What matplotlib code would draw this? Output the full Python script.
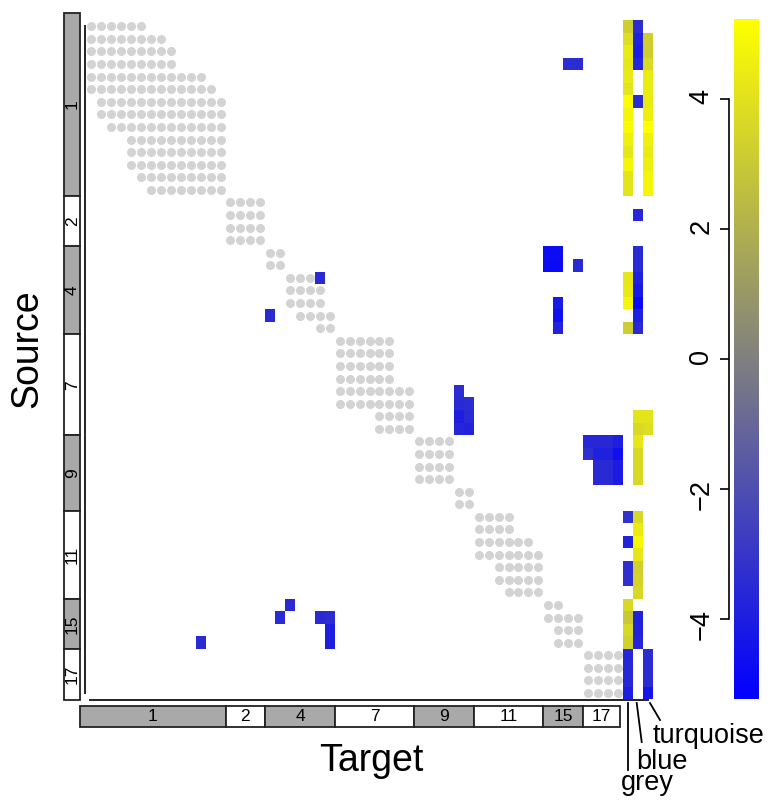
import numpy as np
import matplotlib.pyplot as plt
from matplotlib.colors import LinearSegmentedColormap
from matplotlib.patches import Rectangle

plt.rcParams['font.family'] = ['Liberation Sans', 'DejaVu Sans']

# modules along both axes
modules = ["1", "2", "4", "7", "9", "11", "15", "17"]
module_sizes = [14, 4, 7, 8, 6, 7, 4, 4]
module_shade = ["#A9A9A9", "white", "#A9A9A9", "white", "#A9A9A9", "white", "#A9A9A9", "white"]

# grey dots in the diagonal blocks: (row, first col, last col)
dot_spans = [
    (1, 1, 6), (2, 1, 8), (3, 1, 9), (4, 1, 9), (5, 1, 12), (6, 1, 13), (7, 2, 14),
    (8, 2, 14), (9, 3, 14), (10, 5, 14), (11, 5, 14), (12, 5, 14), (13, 6, 14), (14, 7, 14),
    (15, 15, 18), (16, 15, 18), (17, 15, 18), (18, 15, 18),
    (19, 19, 20), (20, 19, 20), (21, 21, 24), (22, 21, 24), (23, 21, 24), (24, 22, 25), (25, 24, 25),
    (26, 26, 31), (27, 26, 31), (28, 26, 31), (29, 26, 31), (30, 26, 33), (31, 26, 33),
    (32, 30, 33), (33, 30, 33),
    (34, 34, 37), (35, 34, 37), (36, 34, 37), (37, 34, 37), (38, 38, 39), (39, 38, 39),
    (40, 40, 43), (41, 40, 43), (42, 40, 45), (43, 40, 46), (44, 42, 46), (45, 42, 46), (46, 43, 46),
    (47, 47, 48), (48, 47, 50), (49, 48, 50), (50, 48, 50),
    (51, 51, 54), (52, 51, 54), (53, 51, 54), (54, 51, 54),
]

# coloured source/target cells: (row, col, value)
cells = [
    (4, 49, -3.4), (4, 50, -3.4),
    (19, 47, -4.7), (19, 48, -4.7), (20, 47, -4.8), (20, 48, -4.8), (20, 50, -3.5),
    (21, 24, -3.5), (24, 19, -3.5),
    (23, 48, -4.2), (24, 48, -4.6), (25, 48, -3.8),
    (30, 38, -3.4), (31, 38, -3.5), (32, 38, -4.0), (33, 38, -3.7),
    (31, 39, -3.4), (32, 39, -3.5), (33, 39, -3.8),
    (34, 51, -3.6), (34, 52, -3.6), (34, 53, -3.6), (34, 54, -4.0),
    (35, 51, -3.3), (35, 52, -3.9), (35, 53, -3.9), (35, 54, -4.6),
    (36, 52, -3.5), (36, 53, -3.5), (36, 54, -4.1),
    (37, 52, -3.5), (37, 53, -3.5), (37, 54, -4.1),
    (47, 21, -3.5), (48, 20, -3.5), (48, 24, -3.5), (48, 25, -3.4),
    (49, 25, -4.0), (50, 25, -4.0), (50, 12, -3.5),
]

# extra colour columns: (row, value)
colour_names = ["grey", "blue", "turquoise"]
grey_col = [
    (1, 3.2), (2, 3.8), (3, 4.4), (4, 4.2), (5, 4.3), (6, 4.1), (7, 5.1), (8, 4.8),
    (9, 5.0), (10, 4.6), (11, 4.2), (12, 4.8), (13, 4.1), (14, 4.1),
    (21, 4.2), (22, 4.3), (23, 4.8), (25, 3.2),
    (40, -3.2), (42, -3.8), (44, -3.3), (45, -3.3),
    (47, 3.6), (48, 3.0), (49, 3.6), (50, 3.3),
    (51, -3.7), (52, -3.6), (53, -3.6), (54, -4.0),
]
blue_col = [
    (1, -3.4), (2, -3.8), (3, -4.0), (4, -3.7), (7, -3.4), (16, -3.6),
    (19, -3.5), (20, -3.5), (21, -3.9), (22, -4.2), (23, -4.8), (24, -3.9), (25, -3.5),
    (32, 4.1), (33, 3.6), (34, 4.2), (35, 3.6), (36, 3.6), (37, 3.6),
    (40, 3.6), (41, 4.4), (42, 4.9), (43, 4.2), (44, 3.3), (45, 3.4), (46, 3.6),
    (48, -3.8), (49, -3.8), (50, -3.7),
]
turquoise_col = [
    (2, 3.2), (3, 3.2), (4, 3.6), (5, 4.4), (6, 4.4), (7, 4.4), (8, 4.5), (9, 5.2),
    (10, 4.6), (11, 4.4), (12, 4.5), (13, 4.8), (14, 4.8),
    (32, 4.1), (33, 3.8),
    (51, -3.4), (52, -3.4), (53, -3.4), (54, -4.4),
]

n = sum(module_sizes)
ncol = n + 3
vlim = 5.23
cmap = LinearSegmentedColormap.from_list("bgy", ["blue", "grey", "yellow"])

grid = np.full((n, ncol), np.nan)
for r, c, v in cells:
    grid[r - 1, c - 1] = v
for j, col in enumerate([grey_col, blue_col, turquoise_col]):
    for r, v in col:
        grid[r - 1, n + j] = v

W, H = 771, 800
fig = plt.figure(figsize=(W / 100, H / 100), dpi=100)
x0, y0, x1, y1 = 86.5, 20, 652.5, 699.3
ax = fig.add_axes([x0 / W, 1 - y1 / H, (x1 - x0) / W, (y1 - y0) / H])
ax.set_xlim(0, ncol)
ax.set_ylim(n, 0)
ax.axis('off')
cw = (x1 - x0) / ncol
ch = (y1 - y0) / n


def px(x, y):
    return (x - x0) / cw, (y - y0) / ch


dx, dy = [], []
for r, c0, c1 in dot_spans:
    for c in range(c0, c1 + 1):
        dx.append(c - 0.5)
        dy.append(r - 0.5)
ax.scatter(dx, dy, s=42, color='#D3D3D3', linewidths=0, zorder=1)

ax.pcolormesh(np.arange(ncol + 1), np.arange(n + 1), np.ma.masked_invalid(grid),
              cmap=cmap, vmin=-vlim, vmax=vlim, zorder=2)

# axis lines
ax.plot(*zip(px(85.3, 26), px(85.3, 693)), color='#222222', lw=1.4, clip_on=False)
ax.plot(*zip(px(90, 700), px(648, 700)), color='#222222', lw=1.4, clip_on=False)

# module bars
edges = np.concatenate([[0], np.cumsum(module_sizes)])
lx0, lx1 = px(64, 0)[0], px(80.3, 0)[0]
by0, by1 = px(0, 706)[1], px(0, 726.7)[1]
for i, name in enumerate(modules):
    a, b = edges[i], edges[i + 1]
    ta = px(0, 13)[1] if i == 0 else a
    tb = px(0, 700)[1] if i == len(modules) - 1 else b
    ax.add_patch(Rectangle((lx0, ta), lx1 - lx0, tb - ta, facecolor=module_shade[i],
                           edgecolor='#222222', lw=1.3, clip_on=False))
    ax.text((lx0 + lx1) / 2, (ta + tb) / 2, name, rotation=90, ha='center', va='center',
            fontsize=12.5)
    sa = px(80, 0)[0] if i == 0 else a
    sb = px(620, 0)[0] if i == len(modules) - 1 else b
    ax.add_patch(Rectangle((sa, by0), sb - sa, by1 - by0, facecolor=module_shade[i],
                           edgecolor='#222222', lw=1.3, clip_on=False))
    ax.text((sa + sb) / 2, (by0 + by1) / 2, name, ha='center', va='center', fontsize=12.5)

# labels for the colour columns
ax.plot(*zip(px(628.3, 703), px(628.3, 770)), color='black', lw=1.3, clip_on=False)
ax.plot(*zip(px(636.7, 703), px(641.7, 742)), color='black', lw=1.3, clip_on=False)
ax.plot(*zip(px(650, 703), px(660, 720)), color='black', lw=1.3, clip_on=False)
ax.text(*px(621, 790), colour_names[0], fontsize=19.5, ha='left', va='baseline')
ax.text(*px(636, 769), colour_names[1], fontsize=19.5, ha='left', va='baseline')
ax.text(*px(653, 743), colour_names[2], fontsize=19.5, ha='left', va='baseline')

fig.text(27 / W, 1 - 349 / H, "Source", rotation=90, fontsize=27, ha='center', va='center')
fig.text(371 / W, 1 - 761 / H, "Target", fontsize=27, ha='center', va='center')

# colour bar
cax = fig.add_axes([734.3 / W, 1 - 699.3 / H, 24.7 / W, 680 / H])
cax.imshow(np.linspace(-vlim, vlim, 256)[:, None], aspect='auto', cmap=cmap,
           origin='lower', extent=[0, 1, -vlim, vlim])
cax.set_xticks([])
cax.set_yticks([-4, -2, 0, 2, 4])
for s in ['top', 'right', 'bottom']:
    cax.spines[s].set_visible(False)
cax.spines['left'].set_position(('outward', 4))
cax.spines['left'].set_bounds(-4, 4)
cax.spines['left'].set_linewidth(1.2)
cax.tick_params(axis='y', length=6.5, width=1.2, labelsize=19.5, labelrotation=90, pad=4)

plt.savefig("out.png", dpi=100)
plt.close()
